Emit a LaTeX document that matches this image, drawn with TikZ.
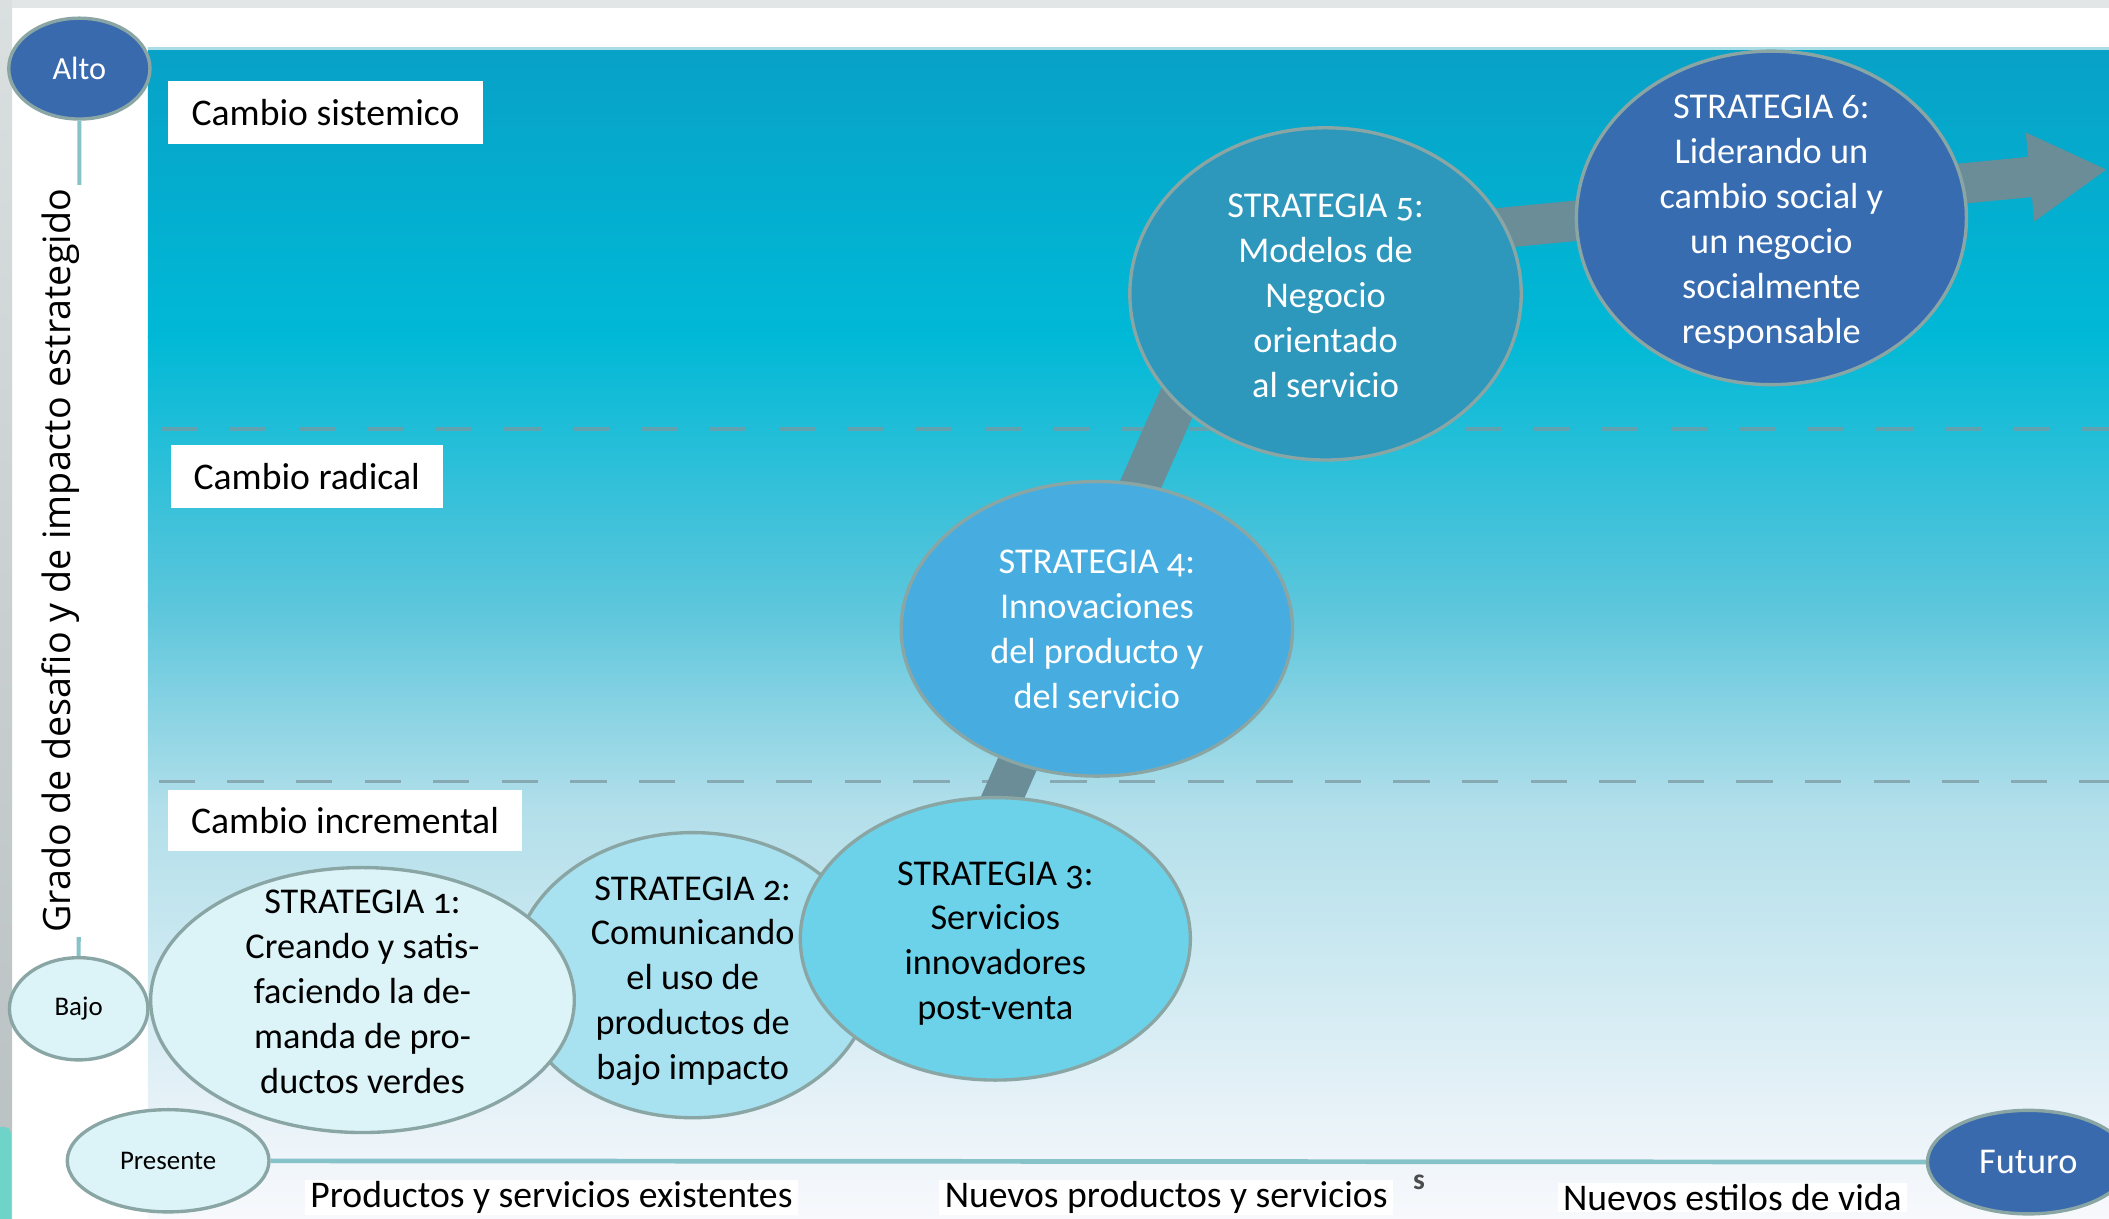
\documentclass[tikz,border=0pt]{standalone}
\usepackage{fontspec}
\setmainfont{Carlito}[Numbers=OldStyle]
\newfontfamily\axisfont{Open Sans}
\usetikzlibrary{shapes.geometric,arrows.meta}
\definecolor{topgray}{HTML}{E3E6E6}
\definecolor{leftgrayA}{HTML}{DADFE0}
\definecolor{leftgrayB}{HTML}{B9C0C2}
\definecolor{blobcol}{HTML}{6ED3C8}
\definecolor{pA}{HTML}{08A1C7}
\definecolor{pB}{HTML}{00B9D6}
\definecolor{pC}{HTML}{5CC6DC}
\definecolor{pD}{HTML}{B2DFEA}
\definecolor{pE}{HTML}{EFF5FA}
\definecolor{pF}{HTML}{F7F9FC}
\definecolor{edgecol}{HTML}{A8DDE8}
\definecolor{dashcol}{HTML}{7C98A2}
\definecolor{axiscol}{HTML}{86C3C8}
\definecolor{bordcol}{HTML}{8AA6A4}
\definecolor{sA}{HTML}{DCF3F8}
\definecolor{sB}{HTML}{A8E1F0}
\definecolor{sC}{HTML}{6CD2EA}
\definecolor{sD}{HTML}{47ADE0}
\definecolor{sE}{HTML}{2E97BC}
\definecolor{sF}{HTML}{386CB0}
\definecolor{darkcirc}{HTML}{3A6AAE}
\definecolor{arrowcol}{HTML}{6A8D98}
\begin{document}
\begin{tikzpicture}[x=1pt,y=-1pt,
  strat/.style={ellipse, draw=bordcol, line width=2.5pt, inner sep=0pt},
  strattext/.style={inner sep=0pt, align=center, font=\fontsize{27}{33.4}\selectfont},
  lab/.style={fill=white, inner sep=0pt, font=\fontsize{28}{32}\selectfont},
  bottomlab/.style={fill=white, inner xsep=4pt, inner ysep=1pt, font=\fontsize{28}{32}\selectfont},
  endcirc/.style={ellipse, draw=bordcol, line width=2.5pt, inner sep=0pt},
  dashline/.style={draw=dashcol, line width=2.6pt, opacity=0.75, dash pattern=on 27pt off 24pt},
  axisline/.style={draw=axiscol, line width=3pt}]
\useasboundingbox (0,0) rectangle (1568,906);
% page background
\fill[white] (0,0) rectangle (1568,906);
\fill[topgray] (0,0) rectangle (1568,6);
\shade[top color=leftgrayA, bottom color=leftgrayB] (0,0) rectangle (9,906);
\fill[blobcol, rounded corners=4pt] (-6,838) rectangle (8,915);
% panel gradient
\shade[top color=pA, bottom color=pB] (110,35) rectangle (1568,251);
\shade[top color=pB, bottom color=pC] (110,250) rectangle (1568,451);
\shade[top color=pC, bottom color=pD] (110,450) rectangle (1568,601);
\shade[top color=pD, bottom color=pE] (110,600) rectangle (1568,861);
\shade[top color=pE, bottom color=pF] (110,860) rectangle (1568,906);
\draw[edgecol, line width=2pt] (110,36) -- (1568,36);
% dashed level lines
\coordinate (dA1) at (120,319);
\coordinate (dA2) at (1568,319);
\coordinate (dB1) at (118,581);
\coordinate (dB2) at (1568,581);
\draw[dashline] (dA1) -- (dA2);
\draw[dashline] (dB1) -- (dB2);
% level labels
\node[lab, minimum width=234pt, minimum height=47pt] (sist) at (242,83.5) {Cambio sistemico};
\node[lab, minimum width=202pt, minimum height=47pt] (radi) at (228,354.5) {Cambio radical};
\node[lab, minimum width=263pt, minimum height=46pt] (incr) at (256.5,610) {Cambio incremental};
% axes end circles
\node[endcirc, fill=darkcirc, minimum width=105pt, minimum height=75pt, text=white,
  font=\fontsize{24}{28}\selectfont] (alto) at (59,51) {Alto};
\node[endcirc, fill=sA, minimum width=103pt, minimum height=76pt,
  font=\fontsize{20}{24}\selectfont] (bajo) at (58.5,750) {Bajo};
\node[endcirc, fill=sA, minimum width=150pt, minimum height=76pt,
  font=\fontsize{20}{24}\selectfont] (pres) at (125,863) {Presente};
\node[endcirc, fill=darkcirc, minimum width=150pt, minimum height=77pt, text=white,
  font=\fontsize{27}{30}\selectfont] (futu) at (1508,864) {Futuro};
% axes
\draw[axisline] (alto) -- (bajo);
\draw[axisline, line width=3.5pt] (pres) -- (futu);
\node[fill=white, rotate=90, inner xsep=3pt, inner ysep=2pt,
  font=\axisfont\fontsize{28}{32}\selectfont] (ylab) at (45,417)
  {Grado de desafio y de impacto estrategido};
% bottom labels
\node[bottomlab] (bl1) at (410,890) {Productos y servicios existentes};
\node[bottomlab] (bl2) at (867,890) {Nuevos productos y servicios};
\node[bottomlab] (bl3) at (1288,890) {Nuevos estilos de vida};
\node[text=black!70, font=\bfseries\fontsize{22}{24}\selectfont, inner sep=0pt] (sart) at (1055,879) {s};
% progression arrow
\coordinate (arrstart) at (707,680);
\coordinate (bend) at (924,188);
\coordinate (arrtip) at (1567,126);
\draw[arrowcol, line width=30pt, line join=round,
  -{Triangle[width=62pt,length=58pt]}] (arrstart) -- (bend) -- (arrtip);
% strategies
\node[strat, fill=sB, minimum width=268pt, minimum height=212pt] (s2) at (515,725) {};
\node[strattext] (s2t) at (515,729.5)
  {STRATEGIA 2:\\Comunicando\\el uso de\\productos de\\bajo impacto};
\node[strat, fill=sA, minimum width=315pt, minimum height=197pt] (s1) at (269.5,743.5) {};
\node[strattext] (s1t) at (269.5,737.5)
  {STRATEGIA 1:\\Creando y satis-\\faciendo la de-\\manda de pro-\\ductos verdes};
\node[strat, fill=sC, minimum width=290pt, minimum height=210pt] (s3) at (740,698) {};
\node[strattext] (s3t) at (740,701.5)
  {STRATEGIA 3:\\Servicios\\innovadores\\post-venta};
\node[strat, fill=sD, minimum width=291pt, minimum height=219pt] (s4) at (815.5,467.5) {};
\node[strattext, text=white] (s4t) at (815.5,468)
  {STRATEGIA 4:\\Innovaciones\\del producto y\\del servicio};
\node[strat, fill=sE, minimum width=291pt, minimum height=247pt] (s5) at (985.5,218.5) {};
\node[strattext, text=white] (s5t) at (985.5,220)
  {STRATEGIA 5:\\Modelos de\\Negocio\\orientado\\al servicio};
\node[strat, fill=sF, minimum width=290pt, minimum height=248pt] (s6) at (1317,162) {};
\node[strattext, text=white] (s6t) at (1317,165)
  {STRATEGIA 6:\\Liderando un\\cambio social y\\un negocio\\socialmente\\responsable};
\end{tikzpicture}
\end{document}
